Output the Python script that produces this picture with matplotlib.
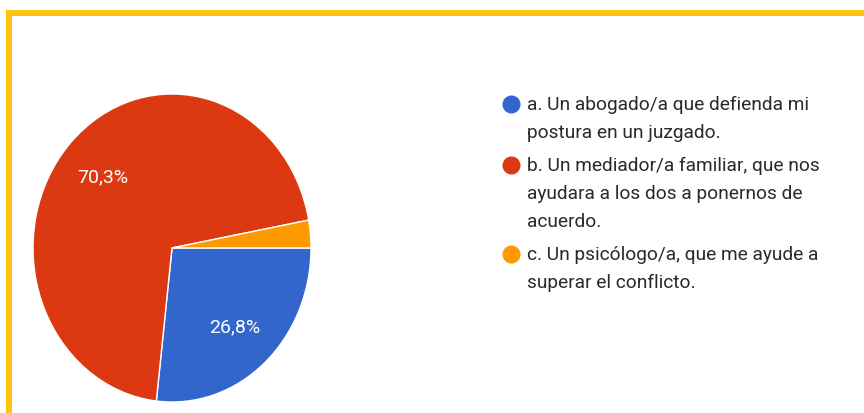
import matplotlib.pyplot as plt
from matplotlib.patches import Rectangle

# Datos
labels = [
    "a. Un abogado/a que defienda mi\npostura en un juzgado.",
    "b. Un mediador/a familiar, que nos\nayudara a los dos a ponernos de\nacuerdo.",
    "c. Un psicólogo/a, que me ayude a\nsuperar el conflicto.",
]
values = [26.8, 70.3, 2.9]
colors = ["#3366CC", "#DC3912", "#FF9900"]

W, H = 864, 414
fig = plt.figure(figsize=(W / 100, H / 100), dpi=100)
fig.patch.set_facecolor("white")

# marco amarillo (arriba e izquierda)
yellow = "#FFC20E"
fig.add_artist(Rectangle((6 / W, 1 - 17 / H), 1, 6 / H, transform=fig.transFigure,
                         color=yellow, lw=0))
fig.add_artist(Rectangle((6 / W, 0), 6 / W, 1 - 11 / H, transform=fig.transFigure,
                         color=yellow, lw=0))

# pie
ax = fig.add_axes([33 / W, (H - 403) / H, 278 / W, 308 / H])


def fmt(p):
    return f"{p:.1f}%".replace(".", ",") if p > 5 else ""


wedges, texts, autotexts = ax.pie(values, colors=colors, startangle=0, counterclock=False,
                                  autopct=fmt, pctdistance=0.68,
                                  wedgeprops=dict(edgecolor="white", linewidth=1),
                                  textprops=dict(color="white", fontsize=14, family="Roboto"))
ax.set_aspect("auto")
ax.set_xlim(-1, 1)
ax.set_ylim(-1, 1)
ax.axis("off")

# leyenda
lax = fig.add_axes([0, 0, 1, 1])
lax.set_xlim(0, W)
lax.set_ylim(H, 0)
lax.axis("off")
y = 105
for lab, c in zip(labels, colors):
    lax.plot(511, y, "o", color=c, markersize=13, markeredgewidth=0)
    for i, line in enumerate(lab.split("\n")):
        lax.text(527, y + i * 28, line, va="center", ha="left", fontsize=13.8,
                 family="Roboto", color="#2a2a2a")
    y += 28 * lab.count("\n") + 33

fig.savefig("out.png", dpi=100)
